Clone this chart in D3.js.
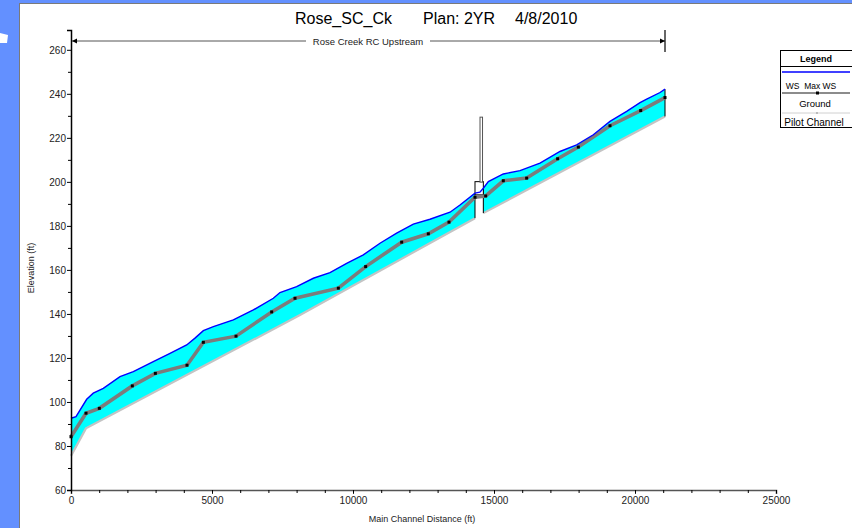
<!DOCTYPE html>
<html>
<head>
<meta charset="utf-8">
<script src="https://cdn.jsdelivr.net/npm/d3@7"></script>
<style>
  body { margin: 0; background: #fff; }
  svg { display: block; font-family: "Liberation Sans", Arial, sans-serif; }
</style>
</head>
<body>
<div id="chart"></div>
<script>
// Water surface (WS Max WS), station (ft) / elevation (ft)
const wsStation = [0, 177, 556, 790, 1145, 1738, 2210, 2918, 3511, 4102, 4397, 4693, 5048, 5757, 6466, 7175, 7411, 8002, 8593, 9184, 9775, 10366, 10957, 11548, 12139, 12730, 13440, 13794, 14326, 14500, 14622, 14800, 15330, 15922, 16631, 17340, 17931, 18522, 19113, 19704, 20178, 20414, 20887, 21064];
const wsElev = [92.6, 93.3, 101.2, 104, 106.2, 111.5, 113.8, 118.3, 122.1, 125.9, 129, 132.4, 134.2, 137.3, 141.8, 147.1, 149.7, 152.4, 156.2, 158.8, 163, 166.8, 172.1, 176.7, 180.8, 183, 186.2, 189.5, 194.9, 195.3, 197.1, 200.1, 203.6, 205.1, 208.5, 213.8, 216.8, 221.4, 227.5, 232, 236, 237.6, 240.6, 242.1];

// Ground, one point per cross section
const groundStation = [0, 532, 1004, 2174, 2991, 4113, 4693, 5851, 7116, 7943, 9480, 10449, 11726, 12671, 13404, 14326, 14705, 15330, 16158, 17257, 17990, 19113, 20202, 21064];
const groundElev = [84.2, 94.9, 97.1, 107.3, 113, 116.7, 127.1, 129.9, 140.9, 147.1, 151.7, 161.5, 172.6, 176.4, 181.7, 193, 193.6, 200.5, 201.7, 210.5, 215.8, 225.5, 232.4, 238.3];

// Pilot channel (two reaches, split at the bridge)
const pilotDownStation = [0, 530, 8121, 14326];
const pilotDownElev = [75.5, 88, 139.5, 183.5];
const pilotUpStation = [14622, 21064];
const pilotUpElev = [185.8, 229.7];

// Bridge: deck and tall rail, stations / elevations
const deckStation = [14326, 14622];
const deckElev = [194.1, 200.1];
const railStation = [14504, 14593];
const railElev = [199.9, 229.4];

const xTicks = [0, 5000, 10000, 15000, 20000, 25000];
const yTicks = [60, 80, 100, 120, 140, 160, 180, 200, 220, 240, 260];

const width = 852;
const height = 528;

const svg = d3.select("#chart").append("svg")
    .attr("width", width)
    .attr("height", height);

// fond bleu + panneau blanc
svg.append("rect").attr("width", width).attr("height", height).attr("fill", "#6390ff");
svg.append("polygon").attr("points", "0,33 8,35 7,43 0,43").attr("fill", "#fff");
svg.append("rect")
    .attr("x", 19.5).attr("y", 3.5)
    .attr("width", 840).attr("height", 530)
    .attr("fill", "#fff").attr("stroke", "#7a7a7a");

const x = d3.scaleLinear().domain([0, 25000]).range([71, 776]);
const y = d3.scaleLinear().domain([60, 269]).range([490, 30]);

const ws = wsStation.map((s, i) => [s, wsElev[i]]);
const ground = groundStation.map((s, i) => [s, groundElev[i]]);
const pilotDown = pilotDownStation.map((s, i) => [s, pilotDownElev[i]]);
const pilotUp = pilotUpStation.map((s, i) => [s, pilotUpElev[i]]);

const line = d3.line().x(d => x(d[0])).y(d => y(d[1]));

// remplissage cyan entre chenal et surface libre
function fillSection(pilot) {
    const s0 = pilot[0][0], s1 = pilot[pilot.length - 1][0];
    const top = ws.filter(d => d[0] >= s0 && d[0] <= s1);
    return line(top.concat(pilot.slice().reverse())) + "Z";
}
svg.append("path").attr("d", fillSection(pilotDown)).attr("fill", "#00ffff");
svg.append("path").attr("d", fillSection(pilotUp)).attr("fill", "#00ffff");

// pilot channel
[pilotDown, pilotUp].forEach(p => {
    svg.append("path").attr("d", line(p))
        .attr("fill", "none").attr("stroke", "#c4c4c4").attr("stroke-width", 2.2);
});

// bords noirs des sections
function edge(s, top, bottom) {
    svg.append("line")
        .attr("x1", x(s)).attr("x2", x(s))
        .attr("y1", y(top)).attr("y2", y(bottom))
        .attr("stroke", "#000").attr("stroke-width", 1);
}
edge(14326, 194.9, 183.5);
edge(14622, 197.1, 185.8);
edge(21064, 242.1, 229.7);

// pont
svg.append("rect")
    .attr("x", x(deckStation[0])).attr("y", y(deckElev[1]))
    .attr("width", x(deckStation[1]) - x(deckStation[0]))
    .attr("height", y(deckElev[0]) - y(deckElev[1]))
    .attr("fill", "#fff").attr("stroke", "#000").attr("stroke-width", 1);
svg.append("rect")
    .attr("x", x(railStation[0])).attr("y", y(railElev[1]))
    .attr("width", x(railStation[1]) - x(railStation[0]))
    .attr("height", y(railElev[0]) - y(railElev[1]))
    .attr("fill", "#fff").attr("stroke", "#555").attr("stroke-width", 1);

// ground
svg.append("path").attr("d", line(ground))
    .attr("fill", "none").attr("stroke", "#7c7c7c").attr("stroke-width", 3.6);
svg.selectAll(".gdot").data(ground).enter().append("rect")
    .attr("class", "gdot")
    .attr("x", d => x(d[0]) - 1.5).attr("y", d => y(d[1]) - 1.5)
    .attr("width", 3).attr("height", 3).attr("fill", "#000");

// WS
svg.append("path").attr("d", line(ws))
    .attr("fill", "none").attr("stroke", "#0000ff").attr("stroke-width", 1.4);

// axes
const xAxis = svg.append("g").attr("transform", "translate(0,490)")
    .call(d3.axisBottom(x).tickValues(xTicks).tickFormat(d3.format("d")).tickSize(4).tickPadding(3));
svg.append("g").attr("transform", "translate(0,490)")
    .call(d3.axisBottom(x).ticks(25).tickSize(3).tickFormat(""))
    .select(".domain").remove();
xAxis.select(".domain").attr("stroke", "#555").attr("stroke-width", 1.5);
xAxis.selectAll(".tick line").attr("stroke", "#333");

const yAxis = svg.append("g").attr("transform", "translate(71,0)")
    .call(d3.axisLeft(y).tickValues(yTicks).tickSize(4).tickPadding(1));
svg.append("g").attr("transform", "translate(71,0)")
    .call(d3.axisLeft(y).tickValues(d3.range(70, 260, 20)).tickSize(3).tickFormat(""))
    .select(".domain").remove();
yAxis.select(".domain").attr("stroke", "#000").attr("stroke-width", 1.5);

svg.selectAll(".tick text")
    .attr("font-size", 10)
    .attr("font-family", "Liberation Sans, Arial, sans-serif")
    .attr("fill", "#222");

// titres
svg.append("text").attr("x", 295).attr("y", 24).attr("font-size", 16).text("Rose_SC_Ck");
svg.append("text").attr("x", 423).attr("y", 24).attr("font-size", 16).text("Plan: 2YR");
svg.append("text").attr("x", 515).attr("y", 24).attr("font-size", 16).text("4/8/2010");

svg.append("text").attr("x", 422).attr("y", 522).attr("font-size", 9)
    .attr("text-anchor", "middle").attr("fill", "#222").text("Main Channel Distance (ft)");
svg.append("text").attr("transform", "translate(34,268) rotate(-90)").attr("font-size", 9)
    .attr("text-anchor", "middle").attr("fill", "#222").text("Elevation (ft)");

// bief
const reachY = 41;
svg.append("line").attr("x1", x(0) + 1).attr("x2", 306).attr("y1", reachY).attr("y2", reachY)
    .attr("stroke", "#555");
svg.append("line").attr("x1", 430).attr("x2", x(21064)).attr("y1", reachY).attr("y2", reachY)
    .attr("stroke", "#555");
svg.append("path").attr("d", `M${x(0) + 1},${reachY} l5,-2.5 v5 Z`).attr("fill", "#000");
svg.append("path").attr("d", `M${x(21064)},${reachY} l-5,-2.5 v5 Z`).attr("fill", "#000");
svg.append("line").attr("x1", x(21064)).attr("x2", x(21064)).attr("y1", 30).attr("y2", 52)
    .attr("stroke", "#000").attr("stroke-width", 1.2);
svg.append("text").attr("x", 368).attr("y", 45).attr("font-size", 9.5)
    .attr("text-anchor", "middle").attr("fill", "#222").text("Rose Creek RC Upstream");

// légende
const lg = svg.append("g");
lg.append("rect").attr("x", 780.5).attr("y", 50.5).attr("width", 90).attr("height", 77)
    .attr("fill", "#fff").attr("stroke", "#000");
lg.append("line").attr("x1", 780).attr("x2", 852).attr("y1", 66.5).attr("y2", 66.5).attr("stroke", "#000");
lg.append("text").attr("x", 816).attr("y", 62).attr("font-size", 9).attr("font-weight", "bold")
    .attr("text-anchor", "middle").text("Legend");
lg.append("line").attr("x1", 782).attr("x2", 850).attr("y1", 72).attr("y2", 72)
    .attr("stroke", "#0000ff").attr("stroke-width", 1.4);
lg.append("text").attr("x", 811).attr("y", 88.5).attr("font-size", 8.5)
    .attr("text-anchor", "middle").attr("xml:space", "preserve").text("WS  Max WS");
lg.append("line").attr("x1", 782).attr("x2", 850).attr("y1", 93).attr("y2", 93)
    .attr("stroke", "#666").attr("stroke-width", 1.6);
lg.append("rect").attr("x", 816).attr("y", 91.5).attr("width", 3).attr("height", 3).attr("fill", "#000");
lg.append("text").attr("x", 815).attr("y", 106.5).attr("font-size", 9.5)
    .attr("text-anchor", "middle").text("Ground");
lg.append("line").attr("x1", 782).attr("x2", 850).attr("y1", 113).attr("y2", 113)
    .attr("stroke", "#d0d0d0").attr("stroke-width", 1);
lg.append("rect").attr("x", 816).attr("y", 112).attr("width", 2).attr("height", 2).attr("fill", "#bbb");
lg.append("text").attr("x", 814).attr("y", 126).attr("font-size", 10)
    .attr("text-anchor", "middle").text("Pilot Channel");
</script>
</body>
</html>
